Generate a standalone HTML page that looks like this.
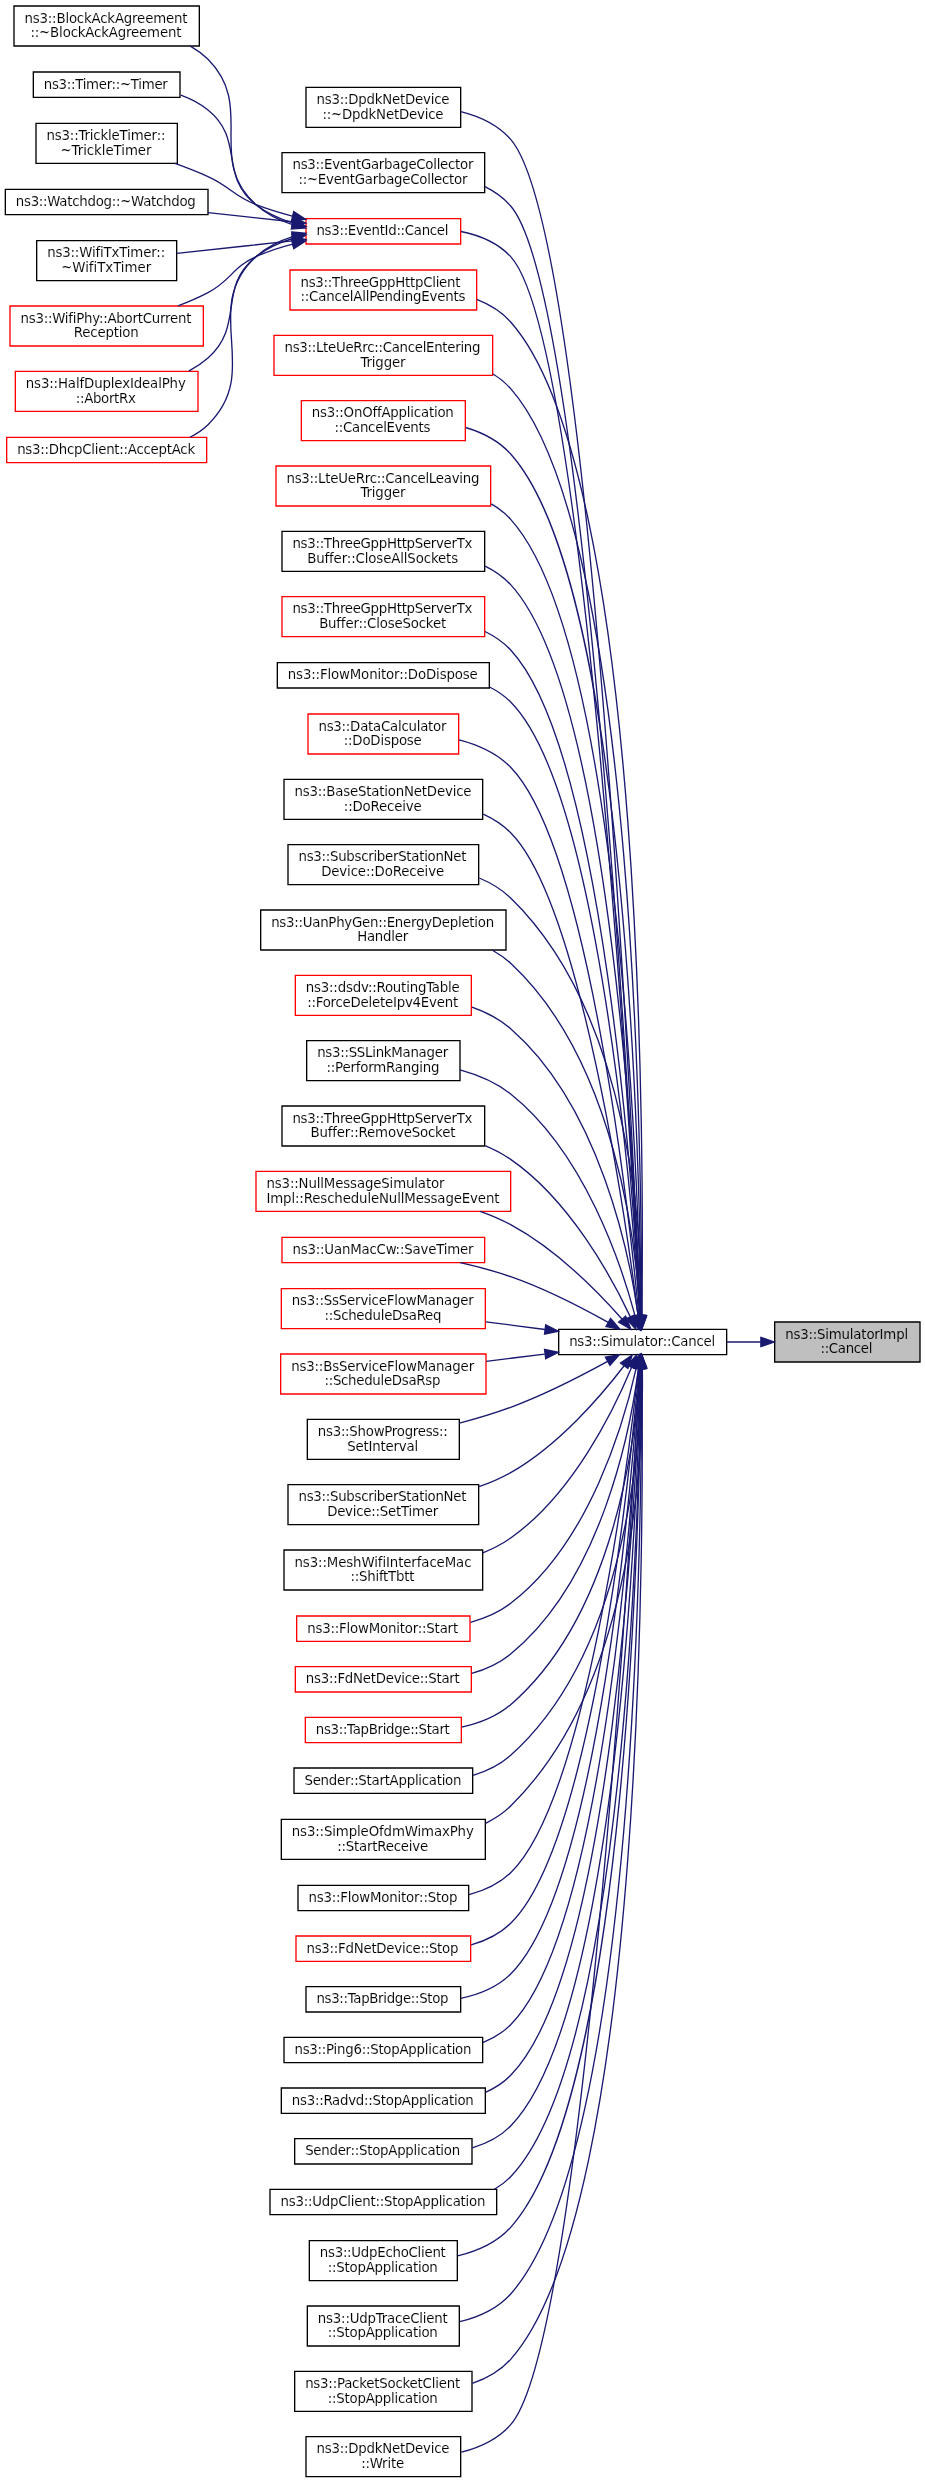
<!DOCTYPE html>
<html lang="en">
<head>
<meta charset="utf-8">
<title>ns3::SimulatorImpl::Cancel</title>
<style>
html,body{margin:0;padding:0;background:#fff}
svg{display:block;will-change:transform}
text{font-family:"DejaVu Sans","Liberation Sans",sans-serif;font-size:10px;font-variant-ligatures:none;font-feature-settings:"liga" 0;fill:#000;stroke:#fff;stroke-width:0.07px}
.g text{stroke:#bfbfbf}
.n polygon{stroke-width:1}
.e path{fill:none;stroke:#191970}
.e polygon{fill:#191970;stroke:#191970}
</style>
</head>
<body>
<svg width="925" height="2483">
<g transform="scale(1.3333333333) translate(4 1858)">
<polygon fill="#fff" stroke="none" points="-4,4 -4,-1858 690,-1858 690,4 -4,4"/>
<g class="n g"><polygon fill="#bfbfbf" stroke="black" points="577,-836.5 577,-866.5 686,-866.5 686,-836.5 577,-836.5"/>
<text text-anchor="start" x="584.85" y="-853.787" textLength="92.25">ns3::SimulatorImpl</text>
<text text-anchor="start" x="611.35" y="-843.287" textLength="39">::Cancel</text>
</g>
<g class="n"><polygon fill="#fff" stroke="black" points="415,-842 415,-861 541,-861 541,-842 415,-842"/>
<text text-anchor="start" x="422.85" y="-848.537" textLength="109.5">ns3::Simulator::Cancel</text>
</g>
<g class="e"><path d="M566.55,-851.5C558.15,-851.5 549.56,-851.5 541.2,-851.5"/><polygon points="566.66,-855 576.66,-851.5 566.66,-848 566.66,-855"/></g>
<g class="n"><polygon fill="#fff" stroke="black" points="225.5,-1762.5 225.5,-1792.5 341.5,-1792.5 341.5,-1762.5 225.5,-1762.5"/>
<text text-anchor="start" x="233.35" y="-1780.037" textLength="99.75">ns3::DpdkNetDevice</text>
<text text-anchor="start" x="237.85" y="-1768.787" textLength="90.75">::~DpdkNetDevice</text>
</g>
<g class="e"><path d="M476.19,-871.17C470.85,-996.86 439.04,-1684.38 379,-1753.5 369.45,-1764.49 355.66,-1770.81 341.54,-1774.35"/><polygon points="479.69,-871.22 476.61,-861.08 472.7,-870.93 479.69,-871.22"/></g>
<g class="n"><polygon fill="#fff" stroke="black" points="207.5,-1713.5 207.5,-1743.5 359.5,-1743.5 359.5,-1713.5 207.5,-1713.5"/>
<text text-anchor="start" x="215.35" y="-1731.287" textLength="135.75">ns3::EventGarbageCollector</text>
<text text-anchor="start" x="219.85" y="-1720.037" textLength="126.75">::~EventGarbageCollector</text>
</g>
<g class="e"><path d="M476.05,-871.19C470.01,-992.78 435.45,-1638.26 379,-1703.5 373.67,-1709.66 367.02,-1714.39 359.72,-1718.01"/><polygon points="479.55,-871.26 476.54,-861.1 472.56,-870.92 479.55,-871.26"/></g>
<g class="n"><polygon fill="#fff" stroke="red" points="225.5,-1675 225.5,-1694 341.5,-1694 341.5,-1675 225.5,-1675"/>
<text text-anchor="start" x="233.35" y="-1681.787" textLength="99">ns3::EventId::Cancel</text>
</g>
<g class="e"><path d="M475.98,-871.46C469.71,-990.63 434.81,-1605.12 379,-1665.5 369.34,-1675.95 355.68,-1681.55 341.74,-1684.37"/><polygon points="479.49,-871.41 476.51,-861.24 472.5,-871.04 479.49,-871.41"/></g>
<g class="n"><polygon fill="#fff" stroke="red" points="213.5,-1625.5 213.5,-1655.5 353.5,-1655.5 353.5,-1625.5 213.5,-1625.5"/>
<text text-anchor="start" x="221.35" y="-1642.787" textLength="120">ns3::ThreeGppHttpClient</text>
<text text-anchor="start" x="221.35" y="-1632.287" textLength="123.75">::CancelAllPendingEvents</text>
</g>
<g class="e"><path d="M477.35,-871.19C478.86,-979.46 480.71,-1501.64 379,-1616.5 372.15,-1624.23 363.21,-1629.64 353.55,-1633.39"/><polygon points="480.85,-870.99 477.19,-861.04 473.85,-871.1 480.85,-870.99"/></g>
<g class="n"><polygon fill="#fff" stroke="red" points="201.5,-1576.5 201.5,-1606.5 365.5,-1606.5 365.5,-1576.5 201.5,-1576.5"/>
<text text-anchor="start" x="209.35" y="-1594.037" textLength="147">ns3::LteUeRrc::CancelEntering</text>
<text text-anchor="start" x="266.35" y="-1582.787" textLength="33.75">Trigger</text>
</g>
<g class="e"><path d="M477.14,-871.51C477.43,-976.14 473.61,-1459.53 379,-1566.5 375.18,-1570.82 370.7,-1574.44 365.82,-1577.46"/><polygon points="480.64,-871.37 477.09,-861.38 473.64,-871.4 480.64,-871.37"/></g>
<g class="n"><polygon fill="#fff" stroke="red" points="222,-1527.5 222,-1557.5 345,-1557.5 345,-1527.5 222,-1527.5"/>
<text text-anchor="start" x="229.85" y="-1545.287" textLength="106.5">ns3::OnOffApplication</text>
<text text-anchor="start" x="246.85" y="-1534.037" textLength="72">::CancelEvents</text>
</g>
<g class="e"><path d="M476.91,-871.38C476.08,-971.39 467.38,-1418.57 379,-1517.5 370.18,-1527.37 357.96,-1533.55 345.24,-1537.37"/><polygon points="480.42,-871.2 476.98,-861.18 473.42,-871.15 480.42,-871.2"/></g>
<g class="n"><polygon fill="#fff" stroke="red" points="203,-1478.5 203,-1508.5 364,-1508.5 364,-1478.5 203,-1478.5"/>
<text text-anchor="start" x="210.85" y="-1495.787" textLength="144.75">ns3::LteUeRrc::CancelLeaving</text>
<text text-anchor="start" x="266.35" y="-1485.287" textLength="33.75">Trigger</text>
</g>
<g class="e"><path d="M476.66,-871.41C474.62,-966.98 461.11,-1377.64 379,-1468.5 374.79,-1473.16 369.82,-1476.99 364.41,-1480.14"/><polygon points="480.16,-871.43 476.85,-861.37 473.16,-871.3 480.16,-871.43"/></g>
<g class="n"><polygon fill="#fff" stroke="black" points="207.5,-1429.5 207.5,-1459.5 359.5,-1459.5 359.5,-1429.5 207.5,-1429.5"/>
<text text-anchor="start" x="215.35" y="-1447.037" textLength="135">ns3::ThreeGppHttpServerTx</text>
<text text-anchor="start" x="226.35" y="-1435.787" textLength="113.25">Buffer::CloseAllSockets</text>
</g>
<g class="e"><path d="M476.37,-871.24C473.06,-961.79 454.92,-1336.61 379,-1419.5 373.61,-1425.38 367.02,-1429.95 359.84,-1433.48"/><polygon points="479.87,-871.13 476.72,-861.02 472.88,-870.89 479.87,-871.13"/></g>
<g class="n"><polygon fill="#fff" stroke="red" points="207.5,-1380.5 207.5,-1410.5 359.5,-1410.5 359.5,-1380.5 207.5,-1380.5"/>
<text text-anchor="start" x="215.35" y="-1398.287" textLength="135">ns3::ThreeGppHttpServerTx</text>
<text text-anchor="start" x="235.35" y="-1387.037" textLength="95.25">Buffer::CloseSocket</text>
</g>
<g class="e"><path d="M476.02,-871.14C471.37,-956.66 448.72,-1295.57 379,-1370.5 373.57,-1376.34 366.94,-1380.88 359.75,-1384.39"/><polygon points="479.52,-871.18 476.55,-861.01 472.53,-870.81 479.52,-871.18"/></g>
<g class="n"><polygon fill="#fff" stroke="black" points="204,-1342 204,-1361 363,-1361 363,-1342 204,-1342"/>
<text text-anchor="start" x="211.85" y="-1348.787" textLength="142.5">ns3::FlowMonitor::DoDispose</text>
</g>
<g class="e"><path d="M475.76,-871.55C470.28,-953.86 445.4,-1264.62 379,-1331.5 374.39,-1336.14 368.99,-1339.83 363.16,-1342.76"/><polygon points="479.29,-871.32 476.44,-861.12 472.3,-870.87 479.29,-871.32"/></g>
<g class="n"><polygon fill="#fff" stroke="red" points="227,-1292.5 227,-1322.5 340,-1322.5 340,-1292.5 227,-1292.5"/>
<text text-anchor="start" x="234.85" y="-1309.787" textLength="96">ns3::DataCalculator</text>
<text text-anchor="start" x="253.85" y="-1299.287" textLength="58.5">::DoDispose</text>
</g>
<g class="e"><path d="M475.18,-871.36C467.79,-947.81 437.56,-1221.85 379,-1282.5 368.74,-1293.12 354.55,-1299.41 340.27,-1303.09"/><polygon points="478.68,-871.49 476.14,-861.2 471.72,-870.83 478.68,-871.49"/></g>
<g class="n"><polygon fill="#fff" stroke="black" points="209,-1243.5 209,-1273.5 358,-1273.5 358,-1243.5 209,-1243.5"/>
<text text-anchor="start" x="216.85" y="-1261.037" textLength="132.75">ns3::BaseStationNetDevice</text>
<text text-anchor="start" x="253.85" y="-1249.787" textLength="58.5">::DoReceive</text>
</g>
<g class="e"><path d="M474.56,-871.34C465.48,-942.09 431.43,-1180.68 379,-1233.5 373.14,-1239.4 366.06,-1243.96 358.45,-1247.47"/><polygon points="478.07,-871.5 475.85,-861.14 471.13,-870.62 478.07,-871.5"/></g>
<g class="n"><polygon fill="#fff" stroke="black" points="212,-1194.5 212,-1224.5 355,-1224.5 355,-1194.5 212,-1194.5"/>
<text text-anchor="start" x="219.85" y="-1212.287" textLength="126">ns3::SubscriberStationNet</text>
<text text-anchor="start" x="236.85" y="-1201.037" textLength="92.25">Device::DoReceive</text>
</g>
<g class="e"><path d="M477.43,-871.32C477.55,-928.66 469.73,-1096.24 379,-1184.5 372.31,-1191.01 364.13,-1195.87 355.42,-1199.5"/><polygon points="480.93,-871.06 477.32,-861.1 473.93,-871.14 480.93,-871.06"/></g>
<g class="n"><polygon fill="#fff" stroke="black" points="191.5,-1145.5 191.5,-1175.5 375.5,-1175.5 375.5,-1145.5 191.5,-1145.5"/>
<text text-anchor="start" x="199.35" y="-1162.787" textLength="167.25">ns3::UanPhyGen::EnergyDepletion</text>
<text text-anchor="start" x="263.85" y="-1152.287" textLength="38.25">Handler</text>
</g>
<g class="e"><path d="M476.27,-871.11C473.27,-922.51 457.87,-1062.23 379,-1135.5 374.9,-1139.31 370.28,-1142.56 365.35,-1145.32"/><polygon points="479.77,-871.19 476.76,-861.03 472.78,-870.85 479.77,-871.19"/></g>
<g class="n"><polygon fill="#fff" stroke="red" points="217.5,-1096.5 217.5,-1126.5 349.5,-1126.5 349.5,-1096.5 217.5,-1096.5"/>
<text text-anchor="start" x="225.35" y="-1114.037" textLength="115.5">ns3::dsdv::RoutingTable</text>
<text text-anchor="start" x="226.35" y="-1102.787" textLength="113.25">::ForceDeleteIpv4Event</text>
</g>
<g class="e"><path d="M474.64,-871.32C468.18,-916.57 445.95,-1028.11 379,-1086.5 370.69,-1093.75 360.5,-1098.93 349.93,-1102.62"/><polygon points="478.12,-871.68 475.96,-861.31 471.19,-870.77 478.12,-871.68"/></g>
<g class="n"><polygon fill="#fff" stroke="black" points="226,-1047.5 226,-1077.5 341,-1077.5 341,-1047.5 226,-1047.5"/>
<text text-anchor="start" x="233.85" y="-1065.287" textLength="98.25">ns3::SSLinkManager</text>
<text text-anchor="start" x="240.85" y="-1054.037" textLength="84.75">::PerformRanging</text>
</g>
<g class="e"><path d="M472.27,-871.27C462.08,-909.44 434.36,-993.43 379,-1037.5 368.11,-1046.17 354.5,-1051.85 341.03,-1055.56"/><polygon points="475.71,-871.94 474.78,-861.38 468.92,-870.21 475.71,-871.94"/></g>
<g class="n"><polygon fill="#fff" stroke="black" points="207.5,-998.5 207.5,-1028.5 359.5,-1028.5 359.5,-998.5 207.5,-998.5"/>
<text text-anchor="start" x="215.35" y="-1015.787" textLength="135">ns3::ThreeGppHttpServerTx</text>
<text text-anchor="start" x="228.85" y="-1005.287" textLength="108.75">Buffer::RemoveSocket</text>
</g>
<g class="e"><path d="M468.68,-870.53C454.63,-900.36 423.35,-957.88 379,-988.5 373.13,-992.55 366.65,-995.94 359.91,-998.79"/><polygon points="471.95,-871.77 472.92,-861.22 465.59,-868.87 471.95,-871.77"/></g>
<g class="n"><polygon fill="#fff" stroke="red" points="188,-949.5 188,-979.5 379,-979.5 379,-949.5 188,-949.5"/>
<text text-anchor="start" x="195.85" y="-967.037" textLength="133.5">ns3::NullMessageSimulator</text>
<text text-anchor="start" x="195.85" y="-955.787" textLength="174.75">Impl::RescheduleNullMessageEvent</text>
</g>
<g class="e"><path d="M462.48,-868.76C444.77,-888.72 412.98,-921.15 379,-939.5 371.83,-943.37 364.03,-946.67 356.08,-949.47"/><polygon points="465.26,-870.9 469.17,-861.06 459.97,-866.31 465.26,-870.9"/></g>
<g class="n"><polygon fill="#fff" stroke="red" points="207.5,-911 207.5,-930 359.5,-930 359.5,-911 207.5,-911"/>
<text text-anchor="start" x="215.35" y="-917.537" textLength="135.75">ns3::UanMacCw::SaveTimer</text>
</g>
<g class="e"><path d="M452.14,-866.16C432.78,-877.02 404.93,-891.44 379,-900.5 366.97,-904.7 353.75,-908.17 341.11,-910.98"/><polygon points="453.96,-869.15 460.92,-861.15 450.5,-863.07 453.96,-869.15"/></g>
<g class="n"><polygon fill="#fff" stroke="red" points="207,-861.5 207,-891.5 360,-891.5 360,-861.5 207,-861.5"/>
<text text-anchor="start" x="214.85" y="-879.287" textLength="136.5">ns3::SsServiceFlowManager</text>
<text text-anchor="start" x="239.35" y="-868.037" textLength="87.75">::ScheduleDsaReq</text>
</g>
<g class="e"><path d="M404.84,-860.87C390.3,-862.76 374.98,-864.75 360.32,-866.65"/><polygon points="405.3,-864.34 414.77,-859.58 404.4,-857.4 405.3,-864.34"/></g>
<g class="n"><polygon fill="#fff" stroke="red" points="206.5,-812.5 206.5,-842.5 360.5,-842.5 360.5,-812.5 206.5,-812.5"/>
<text text-anchor="start" x="214.35" y="-829.787" textLength="137.25">ns3::BsServiceFlowManager</text>
<text text-anchor="start" x="239.35" y="-819.287" textLength="87">::ScheduleDsaRsp</text>
</g>
<g class="e"><path d="M404.49,-842.46C390.17,-840.67 375.1,-838.8 360.66,-837"/><polygon points="404.41,-845.98 414.77,-843.74 405.28,-839.03 404.41,-845.98"/></g>
<g class="n"><polygon fill="#fff" stroke="black" points="226.5,-763.5 226.5,-793.5 340.5,-793.5 340.5,-763.5 226.5,-763.5"/>
<text text-anchor="start" x="234.35" y="-781.037" textLength="97.5">ns3::ShowProgress::</text>
<text text-anchor="start" x="256.35" y="-769.787" textLength="53.25">SetInterval</text>
</g>
<g class="e"><path d="M451.69,-836.95C432.28,-826.27 404.59,-812.02 379,-802.5 366.78,-797.96 353.37,-793.97 340.58,-790.63"/><polygon points="450.06,-840.05 460.5,-841.87 453.47,-833.94 450.06,-840.05"/></g>
<g class="n"><polygon fill="#fff" stroke="black" points="212,-714.5 212,-744.5 355,-744.5 355,-714.5 212,-714.5"/>
<text text-anchor="start" x="219.85" y="-732.287" textLength="126">ns3::SubscriberStationNet</text>
<text text-anchor="start" x="241.35" y="-721.037" textLength="83.25">Device::SetTimer</text>
</g>
<g class="e"><path d="M463.97,-833.48C446.95,-811.28 415.03,-773.99 379,-753.5 371.64,-749.32 363.55,-745.85 355.3,-742.98"/><polygon points="461.34,-835.8 470.13,-841.72 466.94,-831.61 461.34,-835.8"/></g>
<g class="n"><polygon fill="#fff" stroke="black" points="209,-665.5 209,-695.5 358,-695.5 358,-665.5 209,-665.5"/>
<text text-anchor="start" x="216.85" y="-682.787" textLength="132.75">ns3::MeshWifiInterfaceMac</text>
<text text-anchor="start" x="258.85" y="-672.287" textLength="48">::ShiftTbtt</text>
</g>
<g class="e"><path d="M469.66,-832.38C456.49,-800.71 425.79,-737.61 379,-704.5 372.64,-700 365.52,-696.35 358.11,-693.38"/><polygon points="466.48,-833.84 473.45,-841.82 472.97,-831.24 466.48,-833.84"/></g>
<g class="n"><polygon fill="#fff" stroke="red" points="218.5,-627 218.5,-646 348.5,-646 348.5,-627 218.5,-627"/>
<text text-anchor="start" x="226.35" y="-633.287" textLength="113.25">ns3::FlowMonitor::Start</text>
</g>
<g class="e"><path d="M473.21,-832.03C464.35,-792.11 438.39,-700.91 379,-655.5 370.23,-648.79 359.69,-644.28 348.9,-641.28"/><polygon points="469.79,-832.78 475.26,-841.85 476.64,-831.35 469.79,-832.78"/></g>
<g class="n"><polygon fill="#fff" stroke="red" points="217.5,-589 217.5,-608 349.5,-608 349.5,-589 217.5,-589"/>
<text text-anchor="start" x="225.35" y="-595.787" textLength="115.5">ns3::FdNetDevice::Start</text>
</g>
<g class="e"><path d="M474.85,-831.49C468.83,-785.82 447.47,-673.59 379,-617.5 370.59,-610.61 360.35,-605.99 349.76,-602.94"/><polygon points="471.4,-832.08 476.07,-841.58 478.35,-831.24 471.4,-832.08"/></g>
<g class="n"><polygon fill="#fff" stroke="red" points="225,-551 225,-570 342,-570 342,-551 225,-551"/>
<text text-anchor="start" x="232.85" y="-557.537" textLength="100.5">ns3::TapBridge::Start</text>
</g>
<g class="e"><path d="M476.18,-831.78C472.97,-781.34 457.11,-646.87 379,-579.5 368.74,-570.65 355.51,-565.49 342.21,-562.59"/><polygon points="472.7,-832.17 476.73,-841.97 479.69,-831.8 472.7,-832.17"/></g>
<g class="n"><polygon fill="#fff" stroke="black" points="216.5,-513 216.5,-532 350.5,-532 350.5,-513 216.5,-513"/>
<text text-anchor="start" x="224.35" y="-519.287" textLength="117.75">Sender::StartApplication</text>
</g>
<g class="e"><path d="M477.18,-831.69C476.52,-776.54 466.65,-620.17 379,-541.5 371.03,-534.35 361.14,-529.58 350.78,-526.46"/><polygon points="473.68,-831.86 477.2,-841.85 480.68,-831.85 473.68,-831.86"/></g>
<g class="n"><polygon fill="#fff" stroke="black" points="207,-463.5 207,-493.5 360,-493.5 360,-463.5 207,-463.5"/>
<text text-anchor="start" x="214.85" y="-481.037" textLength="136.5">ns3::SimpleOfdmWimaxPhy</text>
<text text-anchor="start" x="248.85" y="-469.787" textLength="68.25">::StartReceive</text>
</g>
<g class="e"><path d="M477.73,-831.58C478.76,-772.47 473.36,-596.37 379,-503.5 373.56,-498.14 367.11,-493.9 360.17,-490.54"/><polygon points="474.23,-831.7 477.46,-841.78 481.22,-831.88 474.23,-831.7"/></g>
<g class="n"><polygon fill="#fff" stroke="black" points="219.5,-425 219.5,-444 347.5,-444 347.5,-425 219.5,-425"/>
<text text-anchor="start" x="227.35" y="-431.537" textLength="111.75">ns3::FlowMonitor::Stop</text>
</g>
<g class="e"><path d="M474.9,-831.66C466.79,-758.78 435.1,-507.23 379,-453.5 370.42,-445.28 359.33,-440.16 347.78,-437.05"/><polygon points="471.44,-832.21 476,-841.77 478.4,-831.45 471.44,-832.21"/></g>
<g class="n"><polygon fill="#fff" stroke="red" points="218,-387 218,-406 349,-406 349,-387 218,-387"/>
<text text-anchor="start" x="225.85" y="-393.287" textLength="114">ns3::FdNetDevice::Stop</text>
</g>
<g class="e"><path d="M475.33,-831.3C468.47,-753.57 439.95,-475.08 379,-415.5 370.86,-407.55 360.38,-402.48 349.37,-399.32"/><polygon points="471.87,-831.97 476.21,-841.63 478.84,-831.37 471.87,-831.97"/></g>
<g class="n"><polygon fill="#fff" stroke="black" points="225.5,-349 225.5,-368 341.5,-368 341.5,-349 225.5,-349"/>
<text text-anchor="start" x="233.35" y="-355.787" textLength="99">ns3::TapBridge::Stop</text>
</g>
<g class="e"><path d="M475.74,-831.68C470.17,-750.32 445.02,-443.16 379,-377.5 369.03,-367.59 355.43,-362.13 341.66,-359.28"/><polygon points="472.27,-832.24 476.43,-841.99 479.26,-831.78 472.27,-832.24"/></g>
<g class="n"><polygon fill="#fff" stroke="black" points="209,-311 209,-330 358,-330 358,-311 209,-311"/>
<text text-anchor="start" x="216.85" y="-317.538" textLength="132.75">ns3::Ping6::StopApplication</text>
</g>
<g class="e"><path d="M476.06,-831.47C471.63,-745.77 449.95,-411.11 379,-339.5 373.11,-333.56 365.92,-329.21 358.15,-326.06"/><polygon points="472.57,-831.84 476.57,-841.66 479.57,-831.5 472.57,-831.84"/></g>
<g class="n"><polygon fill="#fff" stroke="black" points="207,-273 207,-292 360,-292 360,-273 207,-273"/>
<text text-anchor="start" x="214.85" y="-279.288" textLength="136.5">ns3::Radvd::StopApplication</text>
</g>
<g class="e"><path d="M476.36,-831.72C473.05,-742.57 455.02,-379.22 379,-301.5 373.62,-296 367.12,-291.86 360.08,-288.77"/><polygon points="472.86,-831.94 476.71,-841.81 479.86,-831.69 472.86,-831.94"/></g>
<g class="n"><polygon fill="#fff" stroke="black" points="217,-235 217,-254 350,-254 350,-235 217,-235"/>
<text text-anchor="start" x="224.85" y="-241.788" textLength="116.25">Sender::StopApplication</text>
</g>
<g class="e"><path d="M476.6,-831.54C474.32,-738.37 459.99,-347.23 379,-263.5 371.2,-255.44 361.02,-250.3 350.22,-247.1"/><polygon points="473.1,-831.68 476.83,-841.6 480.1,-831.52 473.1,-831.68"/></g>
<g class="n"><polygon fill="#fff" stroke="black" points="198.5,-197 198.5,-216 368.5,-216 368.5,-197 198.5,-197"/>
<text text-anchor="start" x="206.35" y="-203.538" textLength="153.75">ns3::UdpClient::StopApplication</text>
</g>
<g class="e"><path d="M476.83,-831.81C475.56,-735.53 465.1,-315.39 379,-225.5 375.41,-221.75 371.31,-218.64 366.86,-216.05"/><polygon points="473.33,-831.94 476.94,-841.9 480.33,-831.86 473.33,-831.94"/></g>
<g class="n"><polygon fill="#fff" stroke="black" points="228,-147.5 228,-177.5 339,-177.5 339,-147.5 228,-147.5"/>
<text text-anchor="start" x="235.85" y="-165.288" textLength="94.5">ns3::UdpEchoClient</text>
<text text-anchor="start" x="241.85" y="-154.038" textLength="82.5">::StopApplication</text>
</g>
<g class="e"><path d="M476.91,-831.68C476.02,-731.97 467.14,-286.12 379,-187.5 368.82,-176.11 354.12,-169.64 339.33,-166.04"/><polygon points="473.41,-831.88 476.98,-841.85 480.41,-831.83 473.41,-831.88"/></g>
<g class="n"><polygon fill="#fff" stroke="black" points="226.5,-98.5 226.5,-128.5 340.5,-128.5 340.5,-98.5 226.5,-98.5"/>
<text text-anchor="start" x="234.35" y="-115.788" textLength="97.5">ns3::UdpTraceClient</text>
<text text-anchor="start" x="241.85" y="-105.288" textLength="82.5">::StopApplication</text>
</g>
<g class="e"><path d="M477.15,-831.5C477.52,-726.93 474.02,-243.84 379,-137.5 369.19,-126.52 355.13,-120.23 340.85,-116.71"/><polygon points="473.65,-831.6 477.1,-841.62 480.65,-831.64 473.65,-831.6"/></g>
<g class="n"><polygon fill="#fff" stroke="black" points="217,-49.5 217,-79.5 350,-79.5 350,-49.5 217,-49.5"/>
<text text-anchor="start" x="224.85" y="-67.038" textLength="116.25">ns3::PacketSocketClient</text>
<text text-anchor="start" x="241.85" y="-55.788" textLength="82.5">::StopApplication</text>
</g>
<g class="e"><path d="M477.34,-831.86C478.8,-723.87 480.46,-203.04 379,-88.5 371.37,-79.88 361.12,-74.15 350.19,-70.38"/><polygon points="473.84,-831.93 477.19,-841.98 480.84,-832.04 473.84,-831.93"/></g>
<g class="n"><polygon fill="#fff" stroke="black" points="225.5,-0.5 225.5,-30.5 341.5,-30.5 341.5,-0.5 225.5,-0.5"/>
<text text-anchor="start" x="233.35" y="-18.288" textLength="99.75">ns3::DpdkNetDevice</text>
<text text-anchor="start" x="266.85" y="-7.038" textLength="32.25">::Write</text>
</g>
<g class="e"><path d="M475.93,-831.63C469.39,-712.98 433.15,-101.11 379,-39.5 369.5,-28.69 355.89,-22.42 341.95,-18.85"/><polygon points="472.45,-832.01 476.49,-841.8 479.44,-831.63 472.45,-832.01"/></g>
<g class="n"><polygon fill="#fff" stroke="black" points="6.5,-1823.5 6.5,-1853.5 145.5,-1853.5 145.5,-1823.5 6.5,-1823.5"/>
<text text-anchor="start" x="14.35" y="-1840.787" textLength="122.25">ns3::BlockAckAgreement</text>
<text text-anchor="start" x="18.85" y="-1830.287" textLength="113.25">::~BlockAckAgreement</text>
</g>
<g class="e"><path d="M215.36,-1689.58C205.33,-1692.79 195.76,-1697.55 188,-1704.5 149.99,-1738.53 188.03,-1777.37 152,-1813.5 148.12,-1817.39 143.63,-1820.67 138.8,-1823.44"/><polygon points="216.34,-1692.94 225.08,-1686.95 214.51,-1686.18 216.34,-1692.94"/></g>
<g class="n"><polygon fill="#fff" stroke="black" points="21,-1785 21,-1804 131,-1804 131,-1785 21,-1785"/>
<text text-anchor="start" x="28.85" y="-1791.287" textLength="93">ns3::Timer::~Timer</text>
</g>
<g class="e"><path d="M215.54,-1690.83C205.65,-1693.91 196.08,-1698.29 188,-1704.5 159.94,-1726.05 179.63,-1753.4 152,-1775.5 146.02,-1780.28 138.99,-1783.88 131.66,-1786.58"/><polygon points="216.74,-1694.13 225.5,-1688.16 214.93,-1687.36 216.74,-1694.13"/></g>
<g class="n"><polygon fill="#fff" stroke="black" points="23,-1735.5 23,-1765.5 129,-1765.5 129,-1735.5 23,-1735.5"/>
<text text-anchor="start" x="30.85" y="-1753.037" textLength="89.25">ns3::TrickleTimer::</text>
<text text-anchor="start" x="41.35" y="-1741.787" textLength="68.25">~TrickleTimer</text>
</g>
<g class="e"><path d="M215.16,-1695.98C205.9,-1698.35 196.62,-1701.17 188,-1704.5 170.72,-1711.17 168.88,-1717.86 152,-1725.5 144.12,-1729.06 135.58,-1732.39 127.18,-1735.38"/><polygon points="216.27,-1699.31 225.18,-1693.56 214.64,-1692.5 216.27,-1699.31"/></g>
<g class="n"><polygon fill="#fff" stroke="black" points="0,-1697 0,-1716 152,-1716 152,-1697 0,-1697"/>
<text text-anchor="start" x="7.85" y="-1703.537" textLength="135">ns3::Watchdog::~Watchdog</text>
</g>
<g class="e"><path d="M215.21,-1691.7C194.99,-1693.87 172.69,-1696.26 152.01,-1698.47"/><polygon points="215.69,-1695.17 225.26,-1690.63 214.94,-1688.21 215.69,-1695.17"/></g>
<g class="n"><polygon fill="#fff" stroke="black" points="23.5,-1647.5 23.5,-1677.5 128.5,-1677.5 128.5,-1647.5 23.5,-1647.5"/>
<text text-anchor="start" x="31.35" y="-1665.287" textLength="88.5">ns3::WifiTxTimer::</text>
<text text-anchor="start" x="41.85" y="-1654.037" textLength="67.5">~WifiTxTimer</text>
</g>
<g class="e"><path d="M215.1,-1677.28C186.99,-1674.28 154.86,-1670.84 128.67,-1668.03"/><polygon points="214.94,-1680.79 225.26,-1678.37 215.69,-1673.83 214.94,-1680.79"/></g>
<g class="n"><polygon fill="#fff" stroke="red" points="3.5,-1598.5 3.5,-1628.5 148.5,-1628.5 148.5,-1598.5 3.5,-1598.5"/>
<text text-anchor="start" x="11.35" y="-1615.787" textLength="128.25">ns3::WifiPhy::AbortCurrent</text>
<text text-anchor="start" x="51.35" y="-1605.287" textLength="48.75">Reception</text>
</g>
<g class="e"><path d="M215.45,-1674.89C206.02,-1672.44 196.62,-1669.36 188,-1665.5 169.75,-1657.33 169.72,-1647.78 152,-1638.5 144.95,-1634.81 137.24,-1631.5 129.54,-1628.6"/><polygon points="214.72,-1678.32 225.26,-1677.24 216.34,-1671.51 214.72,-1678.32"/></g>
<g class="n"><polygon fill="#fff" stroke="red" points="7.5,-1549.5 7.5,-1579.5 144.5,-1579.5 144.5,-1549.5 7.5,-1549.5"/>
<text text-anchor="start" x="15.35" y="-1567.037" textLength="120">ns3::HalfDuplexIdealPhy</text>
<text text-anchor="start" x="52.85" y="-1555.787" textLength="45">::AbortRx</text>
</g>
<g class="e"><path d="M215.42,-1679.13C205.54,-1676.12 196.01,-1671.76 188,-1665.5 158.55,-1642.48 179.97,-1614.29 152,-1589.5 147.69,-1585.68 142.77,-1582.44 137.56,-1579.69"/><polygon points="214.81,-1682.59 225.37,-1681.7 216.56,-1675.81 214.81,-1682.59"/></g>
<g class="n"><polygon fill="#fff" stroke="red" points="1,-1511 1,-1530 151,-1530 151,-1511 1,-1511"/>
<text text-anchor="start" x="8.85" y="-1517.537" textLength="133.5">ns3::DhcpClient::AcceptAck</text>
</g>
<g class="e"><path d="M215.51,-1680.56C205.37,-1677.42 195.73,-1672.64 188,-1665.5 145.21,-1625.99 193.8,-1580.06 152,-1539.5 148.05,-1535.67 143.44,-1532.57 138.48,-1530.08"/><polygon points="214.78,-1683.99 225.34,-1683.1 216.54,-1677.21 214.78,-1683.99"/></g>
</g>
</svg>
</body>
</html>
